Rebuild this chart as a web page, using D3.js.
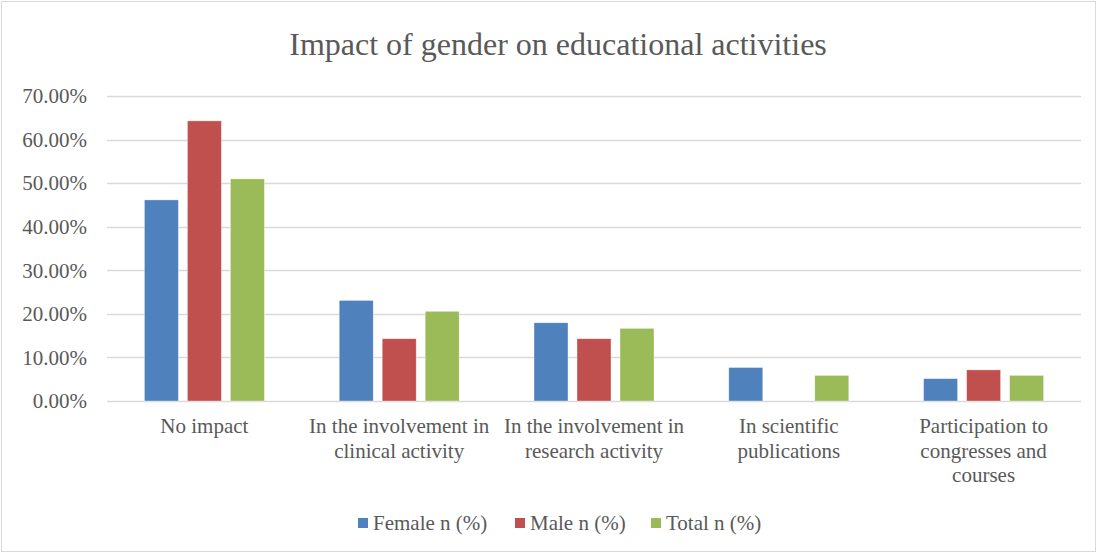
<!DOCTYPE html>
<html><head><meta charset="utf-8">
<script src="https://cdn.jsdelivr.net/npm/d3@7"></script>
<style>body{margin:0;background:#fff}svg{display:block}</style>
</head><body>
<svg id="c" width="1097" height="553"></svg>
<script>
const categories = [
  ["No impact"],
  ["In the involvement in", "clinical activity"],
  ["In the involvement in", "research activity"],
  ["In scientific", "publications"],
  ["Participation to", "congresses and", "courses"]
];
const seriesNames = ["Female n (%)", "Male n (%)", "Total n (%)"];
const female = [46.15, 23.08, 17.95, 7.69, 5.13];
const male = [64.29, 14.29, 14.29, 0, 7.14];
const total = [50.98, 20.59, 16.67, 5.88, 5.88];
const yTicks = [0, 10, 20, 30, 40, 50, 60, 70];
const colors = ["#4F81BD", "#C0504D", "#9BBB59"];
const title = "Impact of gender on educational activities";

const values = [female, male, total];
const svg = d3.select("#c");
const font = "'Liberation Serif','Times New Roman',serif";
const W = 1097, H = 553;
const m = {left: 107, right: 1081, top: 96, bottom: 401};

svg.append("rect").attr("x", 1.5).attr("y", 1.5).attr("width", W - 3).attr("height", H - 3)
  .attr("fill", "#fff").attr("stroke", "#d9d9d9").attr("stroke-width", 1);

svg.append("text").attr("x", 558).attr("y", 55).attr("text-anchor", "middle")
  .attr("font-family", font).attr("font-size", 32).attr("fill", "#595959").text(title);

const idx = d3.range(categories.length);
const x0 = d3.scaleBand().domain(idx).range([m.left, m.right]).padding(0);
const x1 = d3.scaleBand().domain(d3.range(seriesNames.length)).range([0, x0.bandwidth()])
  .paddingInner(9 / 43).paddingOuter(0.87);
const y = d3.scaleLinear().domain([0, 70]).range([m.bottom, m.top]);

// gridlines
svg.append("g").selectAll("line").data(yTicks).join("line")
  .attr("x1", m.left).attr("x2", m.right)
  .attr("y1", d => Math.round(y(d)) + 0.5).attr("y2", d => Math.round(y(d)) + 0.5)
  .attr("stroke", "#d9d9d9").attr("stroke-width", 1.3);

// y axis labels
const yAxis = d3.axisLeft(y).tickValues(yTicks).tickSize(0).tickPadding(0)
  .tickFormat(d => d.toFixed(2) + "%");
const ga = svg.append("g").attr("transform", `translate(${m.left - 20},0)`).call(yAxis);
ga.select(".domain").remove();
ga.selectAll("text").attr("font-family", font).attr("font-size", 21).attr("fill", "#595959");

// bars
const g = svg.append("g");
values.forEach((vals, s) => {
  g.selectAll(null).data(idx).join("rect")
    .attr("x", i => x0(i) + x1(s))
    .attr("width", x1.bandwidth())
    .attr("y", i => y(vals[i]))
    .attr("height", i => y(0) - y(vals[i]))
    .attr("fill", colors[s])
    .attr("stroke", "#ffffff").attr("stroke-width", 0.6).attr("stroke-opacity", 0.6);
});

// category labels
const xl = svg.append("g");
idx.forEach(i => {
  const t = xl.append("text").attr("text-anchor", "middle")
    .attr("font-family", font).attr("font-size", 21).attr("fill", "#595959");
  categories[i].forEach((line, k) => {
    t.append("tspan").attr("x", x0(i) + x0.bandwidth() / 2).attr("y", 433 + k * 24.5).text(line);
  });
});

// legend
const legX = [358, 515, 651];
const lg = svg.append("g");
seriesNames.forEach((n, s) => {
  lg.append("rect").attr("x", legX[s]).attr("y", 518).attr("width", 10).attr("height", 10).attr("fill", colors[s]);
  lg.append("text").attr("x", legX[s] + 15).attr("y", 530).attr("font-family", font)
    .attr("font-size", 21).attr("fill", "#595959").text(n);
});
</script>
</body></html>
